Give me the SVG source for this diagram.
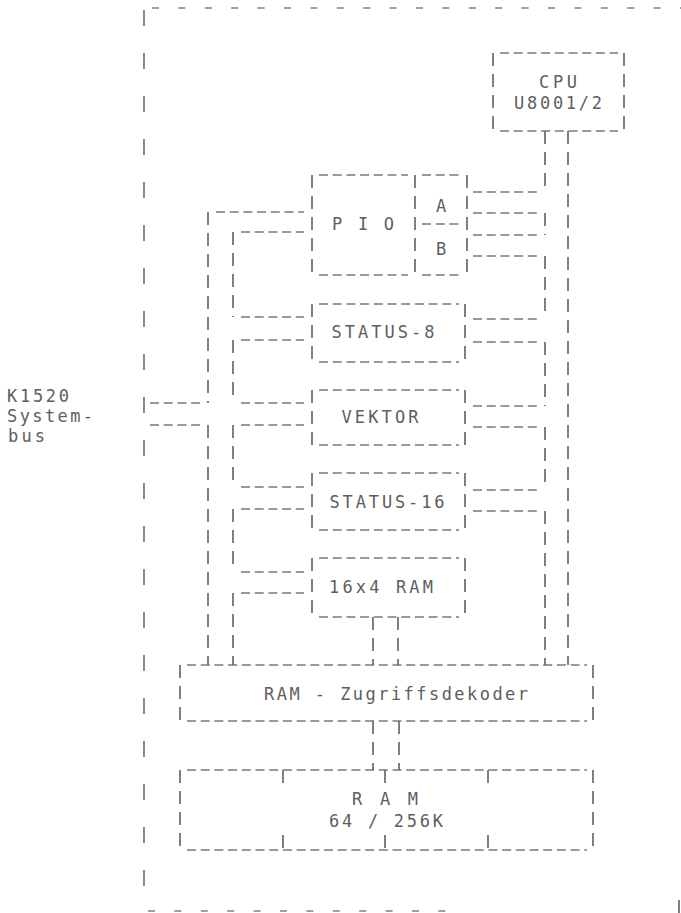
<svg xmlns="http://www.w3.org/2000/svg" width="681" height="913" viewBox="0 0 681 913">
<style>
.h{stroke:#7a7a7a;stroke-width:1.3;stroke-dasharray:9 4.7;fill:none}
.v{stroke:#6a6a6a;stroke-width:1.7;stroke-dasharray:13 8;fill:none}
.fh{stroke:#808080;stroke-width:1.3;stroke-dasharray:7 19.4;fill:none}
.fv{stroke:#777;stroke-width:1.7;stroke-dasharray:16 27;fill:none}
text{font-family:"DejaVu Sans Mono","Liberation Mono",monospace;font-size:17px;fill:#5e5e5e}
.c{text-anchor:middle}
</style>
<rect width="681" height="913" fill="#fff"/>
<g id="frame">
<line class="fh" x1="152" y1="8" x2="681" y2="8"/>
<line class="fv" x1="144" y1="10" x2="144" y2="912"/>
<line class="fh" x1="148" y1="911" x2="462" y2="911"/>
<line class="v" x1="679" y1="900" x2="679" y2="913"/>
</g>
<g id="k1520-label">
<text x="7" y="402" textLength="62" lengthAdjust="spacing">K1520</text>
<text x="7" y="422" textLength="86" lengthAdjust="spacing">System-</text>
<text x="8" y="442" textLength="37" lengthAdjust="spacing">bus</text>
</g>
<g id="cpu">
<line class="h" x1="500" y1="53" x2="618" y2="53"/>
<line class="h" x1="500" y1="131" x2="618" y2="131"/>
<line class="v" x1="493" y1="53" x2="493" y2="131"/>
<line class="v" x1="624" y1="53" x2="624" y2="131"/>
<text class="c" x="558" y="88" textLength="38" lengthAdjust="spacing">CPU</text>
<text class="c" x="558" y="109" textLength="88" lengthAdjust="spacing">U8001/2</text>
</g>
<g id="pio">
<line class="h" x1="319" y1="175" x2="408" y2="175"/>
<line class="h" x1="319" y1="275" x2="408" y2="275"/>
<line class="h" x1="422" y1="175" x2="460" y2="175"/>
<line class="h" x1="422" y1="275" x2="460" y2="275"/>
<line class="h" x1="422" y1="224" x2="460" y2="224"/>
<line class="v" x1="312" y1="175" x2="312" y2="275"/>
<line class="v" x1="415" y1="175" x2="415" y2="275"/>
<line class="v" x1="467" y1="175" x2="467" y2="275"/>
<text class="c" x="363" y="230" textLength="62" lengthAdjust="spacing">P I O</text>
<text class="c" x="441" y="212">A</text>
<text class="c" x="441" y="255">B</text>
</g>
<g id="status8">
<line class="h" x1="319" y1="304" x2="459" y2="304"/>
<line class="h" x1="319" y1="362" x2="459" y2="362"/>
<line class="v" x1="312" y1="304" x2="312" y2="362"/>
<line class="v" x1="465" y1="304" x2="465" y2="362"/>
<text class="c" x="383" y="338" textLength="103" lengthAdjust="spacing">STATUS-8</text>
</g>
<g id="vektor">
<line class="h" x1="319" y1="390" x2="459" y2="390"/>
<line class="h" x1="319" y1="445" x2="459" y2="445"/>
<line class="v" x1="312" y1="390" x2="312" y2="445"/>
<line class="v" x1="465" y1="390" x2="465" y2="445"/>
<text class="c" x="380" y="423" textLength="77" lengthAdjust="spacing">VEKTOR</text>
</g>
<g id="status16">
<line class="h" x1="319" y1="473" x2="459" y2="473"/>
<line class="h" x1="319" y1="530" x2="459" y2="530"/>
<line class="v" x1="312" y1="473" x2="312" y2="530"/>
<line class="v" x1="465" y1="473" x2="465" y2="530"/>
<text class="c" x="387" y="508" textLength="115" lengthAdjust="spacing">STATUS-16</text>
</g>
<g id="ram16x4">
<line class="h" x1="319" y1="558" x2="459" y2="558"/>
<line class="h" x1="319" y1="617" x2="459" y2="617"/>
<line class="v" x1="312" y1="558" x2="312" y2="617"/>
<line class="v" x1="465" y1="558" x2="465" y2="617"/>
<text class="c" x="381" y="593" textLength="104" lengthAdjust="spacing">16x4 RAM</text>
</g>
<g id="decoder">
<line class="h" x1="187" y1="665" x2="587" y2="665"/>
<line class="h" x1="187" y1="721" x2="587" y2="721"/>
<line class="v" x1="180" y1="665" x2="180" y2="721"/>
<line class="v" x1="593" y1="665" x2="593" y2="721"/>
<text class="c" x="396" y="700" textLength="264" lengthAdjust="spacing">RAM - Zugriffsdekoder</text>
</g>
<g id="ram">
<line class="h" x1="187" y1="770" x2="587" y2="770"/>
<line class="h" x1="187" y1="850" x2="587" y2="850"/>
<line class="v" x1="180" y1="770" x2="180" y2="850"/>
<line class="v" x1="593" y1="770" x2="593" y2="850"/>
<path class="v" d="M283 770V785M385 770V785M488 770V785M283 835V850M385 835V850M488 835V850"/>
<text class="c" x="385" y="805" textLength="66" lengthAdjust="spacing">R A M</text>
<text class="c" x="386" y="827" textLength="114" lengthAdjust="spacing">64 / 256K</text>
</g>
<g id="connectors">
<path class="v" d="M208 212V403M208 425V665"/>
<path class="v" d="M233 232V317M233 340V403M233 425V487M233 509V572M233 593V665"/>
<path class="h" d="M216 212H304M241 232H304M241 317H304M241 340H304M241 403H304M241 425H304M241 487H304M241 509H304M241 572H304M241 593H304"/>
<path class="h" d="M150 403H201M150 425H201"/>
<path class="v" d="M545 131V192M545 213V235M545 256V319M545 342V406M545 427V490M545 511V665"/>
<path class="v" d="M568 131V665"/>
<path class="h" d="M473 192H538M473 213H538M473 235H538M473 256H538M473 319H538M473 342H538M473 406H538M473 427H538M473 490H538M473 511H538"/>
<path class="v" d="M373 617V665M398 617V665M373 721V770M399 721V770"/>
</g>
</svg>
